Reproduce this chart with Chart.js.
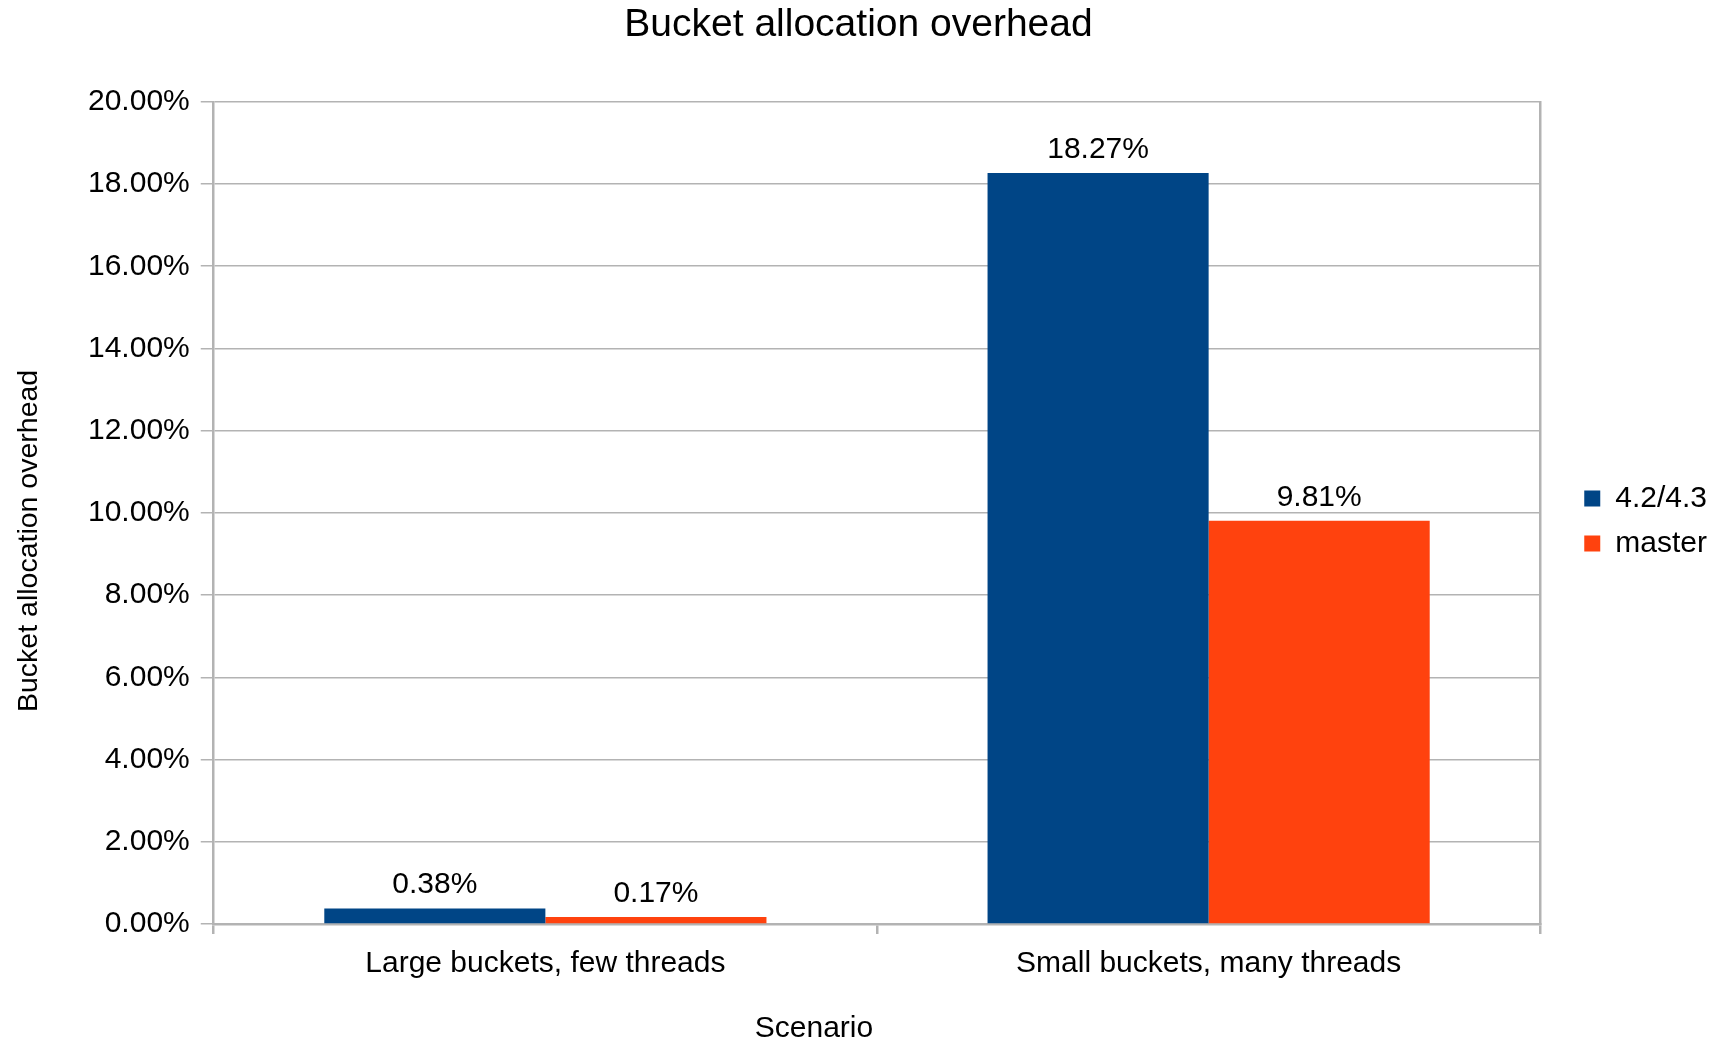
<!DOCTYPE html>
<html>
<head>
<meta charset="utf-8">
<script src="https://cdn.jsdelivr.net/npm/chart.js@4/dist/chart.umd.min.js"></script>
<style>
  html, body { margin: 0; padding: 0; background: #ffffff; }
  #wrap { width: 1712px; height: 1042px; }
</style>
</head>
<body>
<div id="wrap"><canvas id="c" width="1712" height="1042"></canvas></div>
<script>
const chartTitle = 'Bucket allocation overhead';
const xAxisTitle = 'Scenario';
const yAxisTitle = 'Bucket allocation overhead';
const categories = ['Large buckets, few threads', 'Small buckets, many threads'];
const seriesNames = ['4.2/4.3', 'master'];
const series42 = [0.38, 18.27];
const seriesMaster = [0.17, 9.81];
const yTickMin = 0;
const yTickMax = 20;
const yTickStep = 2;

const FONT = "'Liberation Sans', Arial, sans-serif";
const GRID = '#b3b3b3';

const fmt = v => Number(v).toFixed(2) + '%';

const dataLabels = {
  id: 'dataLabels',
  afterDatasetsDraw(chart) {
    const ctx = chart.ctx;
    ctx.save();
    ctx.font = '30px ' + FONT;
    ctx.fillStyle = '#000';
    ctx.textAlign = 'center';
    ctx.textBaseline = 'alphabetic';
    chart.data.datasets.forEach((ds, di) => {
      const meta = chart.getDatasetMeta(di);
      meta.data.forEach((el, i) => {
        ctx.fillText(fmt(ds.data[i]), el.x, el.y - 15);
      });
    });
    ctx.restore();
  }
};

// Axis titles placed like the original (slightly off the axis centre)
const axisTitles = {
  id: 'axisTitles',
  afterDraw(chart) {
    const ctx = chart.ctx;
    const ca = chart.chartArea;
    const ys = chart.scales.y;
    const xs = chart.scales.x;
    ctx.save();
    ctx.fillStyle = '#000';
    ctx.textAlign = 'center';
    ctx.textBaseline = 'middle';
    // y title
    ctx.save();
    ctx.font = '28.5px ' + FONT;
    ctx.translate(ys.left + 11 + 18, (ca.top + ca.bottom) / 2 + 28);
    ctx.rotate(-Math.PI / 2);
    ctx.fillText(yAxisTitle, 0, 0);
    ctx.restore();
    // x title
    ctx.font = '30px ' + FONT;
    ctx.fillText(xAxisTitle, (ca.left + ca.right) / 2 - 63, xs.bottom + 5 - 18);
    ctx.restore();
  }
};

new Chart(document.getElementById('c'), {
  type: 'bar',
  data: {
    labels: categories,
    datasets: [
      { label: seriesNames[0], data: series42, backgroundColor: '#004586', borderWidth: 0 },
      { label: seriesNames[1], data: seriesMaster, backgroundColor: '#ff420e', borderWidth: 0 }
    ]
  },
  plugins: [dataLabels, axisTitles],
  options: {
    responsive: false,
    animation: false,
    categoryPercentage: 2 / 3,
    barPercentage: 1.0,
    layout: { padding: { left: 0, right: -5, top: 0, bottom: 0 } },
    plugins: {
      title: {
        display: true,
        text: chartTitle,
        color: '#000',
        font: { family: FONT, size: 39, weight: 'normal' },
        padding: { top: 2, bottom: 53 }
      },
      legend: {
        position: 'right',
        labels: {
          boxWidth: 16,
          boxHeight: 16,
          padding: 15,
          color: '#000',
          font: { family: FONT, size: 30 }
        }
      },
      tooltip: { enabled: false }
    },
    scales: {
      x: {
        offset: true,
        grid: {
          display: true,
          offset: true,
          drawOnChartArea: false,
          drawTicks: true,
          tickLength: 10,
          color: GRID,
          lineWidth: 2.5
        },
        border: { display: true, color: GRID, width: 2.5 },
        ticks: {
          color: '#000',
          font: { family: FONT, size: 30 },
          padding: 12,
          maxRotation: 0
        },
        title: {
          display: true,
          text: xAxisTitle,
          color: 'rgba(0,0,0,0)',
          font: { family: FONT, size: 30 },
          padding: { top: 17, bottom: -5 }
        }
      },
      y: {
        min: yTickMin,
        max: yTickMax,
        grid: {
          color: GRID,
          lineWidth: 1.5,
          drawTicks: true,
          tickLength: 13
        },
        border: { display: true, color: GRID, width: 2.5 },
        ticks: {
          stepSize: yTickStep,
          color: '#000',
          font: { family: FONT, size: 30 },
          padding: 11,
          callback: v => fmt(v)
        },
        title: {
          display: true,
          text: yAxisTitle,
          color: 'rgba(0,0,0,0)',
          font: { family: FONT, size: 30 },
          padding: { top: 11, bottom: 30 }
        }
      },
      y2: {
        position: 'right',
        display: true,
        grid: { display: false, drawTicks: false },
        border: { display: true, color: GRID, width: 2.5 },
        ticks: { display: false },
        afterFit(scale) { scale.width = 29; }
      }
    }
  }
});
</script>
</body>
</html>
